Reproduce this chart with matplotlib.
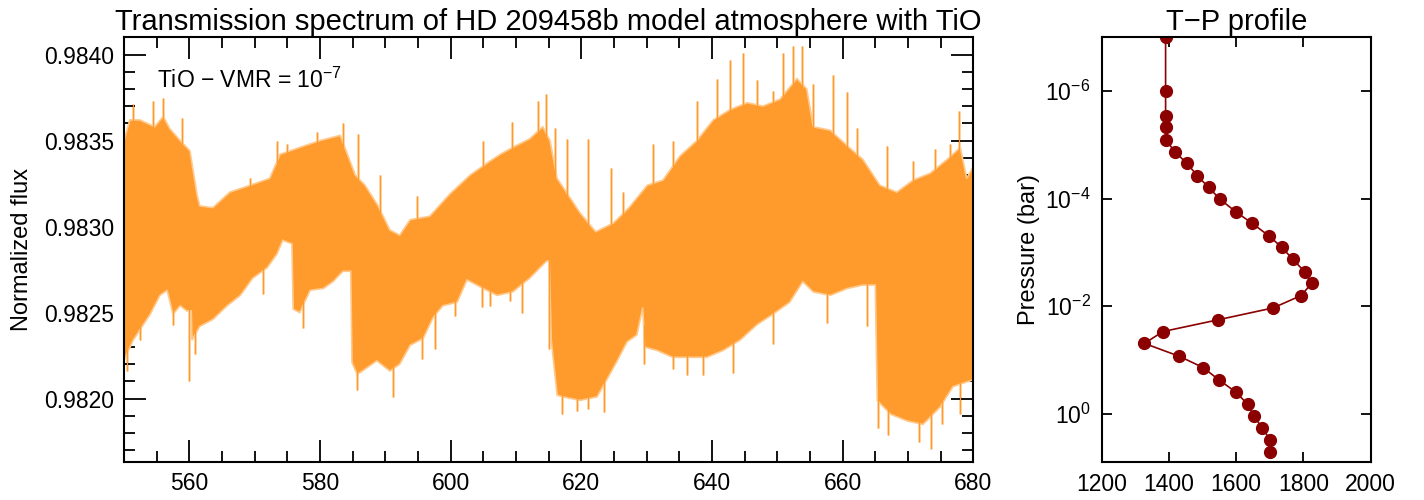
import numpy as np
import matplotlib
matplotlib.use("Agg")
import matplotlib.pyplot as plt
from matplotlib.ticker import MultipleLocator, FixedLocator, NullLocator, LogFormatterSciNotation

plt.rcParams['font.family'] = ['Liberation Sans', 'DejaVu Sans']
plt.rcParams['mathtext.fontset'] = 'custom'
plt.rcParams['mathtext.rm'] = 'Liberation Sans'
plt.rcParams['mathtext.it'] = 'Liberation Sans:italic'
plt.rcParams['mathtext.bf'] = 'Liberation Sans:bold'

# ---- Spectrum envelope ----
upper_wl = [550.0, 550.9, 552.4, 554.7, 556.0, 557.0, 558.6, 560.1, 561.2, 561.6,
            563.6, 566.2, 569.3, 572.3, 573.9, 576.9, 580.0, 583.1, 583.8, 585.4,
            586.9, 588.9, 590.7, 592.2, 593.8, 596.8, 599.9, 603.0, 606.0, 607.6,
            609.5, 612.1, 614.1, 615.2, 616.3, 619.8, 622.2, 624.9, 627.3, 630.1,
            632.5, 635.1, 637.7, 640.2, 642.8, 645.4, 647.8, 650.4, 653.0, 654.5,
            655.5, 658.1, 660.7, 663.1, 665.7, 668.3, 670.8, 673.4, 676.0, 678.0,
            679.0, 680.0]
upper_flux = [0.98350, 0.98362, 0.98362, 0.98358, 0.98364, 0.98357, 0.98350, 0.98344, 0.98318, 0.98312,
              0.98311, 0.98320, 0.98324, 0.98328, 0.98342, 0.98346, 0.98350, 0.98353, 0.98346, 0.98330,
              0.98324, 0.98312, 0.98298, 0.98295, 0.98304, 0.98306, 0.98319, 0.98330, 0.98338, 0.98342,
              0.98346, 0.98351, 0.98358, 0.98350, 0.98328, 0.98308, 0.98297, 0.98302, 0.98311, 0.98324,
              0.98327, 0.98341, 0.98350, 0.98362, 0.98368, 0.98372, 0.98370, 0.98374, 0.98386, 0.98380,
              0.98358, 0.98356, 0.98347, 0.98339, 0.98324, 0.98320, 0.98327, 0.98331, 0.98339, 0.98346,
              0.98328, 0.98335]

lower_wl = [550.0, 551.4, 554.0, 555.5, 556.6, 557.5, 558.6, 559.6, 560.3, 560.4,
            561.6, 563.6, 565.8, 567.8, 569.7, 571.9, 573.4, 574.3, 575.7, 575.9,
            576.9, 578.5, 580.5, 582.0, 583.5, 584.7, 584.9, 585.7, 587.2, 588.7,
            590.7, 592.2, 593.8, 595.8, 597.3, 598.8, 601.0, 602.5, 605.0, 607.1,
            609.5, 612.1, 614.7, 615.1, 615.4, 616.3, 617.2, 619.8, 622.4, 623.9,
            625.5, 627.0, 628.5, 629.4, 629.7, 631.6, 634.0, 636.6, 639.2, 641.7,
            644.3, 646.9, 649.3, 651.9, 653.9, 655.5, 658.1, 660.7, 663.1, 665.0,
            665.3, 667.3, 669.9, 672.3, 674.9, 676.9, 680.0]
lower_flux = [0.98222, 0.98234, 0.98249, 0.98260, 0.98263, 0.98249, 0.98254, 0.98251, 0.98251, 0.98234,
              0.98242, 0.98246, 0.98254, 0.98260, 0.98270, 0.98276, 0.98284, 0.98292, 0.98290, 0.98252,
              0.98250, 0.98263, 0.98264, 0.98268, 0.98274, 0.98274, 0.98221, 0.98214, 0.98218, 0.98222,
              0.98216, 0.98220, 0.98231, 0.98235, 0.98247, 0.98254, 0.98256, 0.98269, 0.98264, 0.98260,
              0.98262, 0.98270, 0.98280, 0.98280, 0.98234, 0.98202, 0.98201, 0.98199, 0.98201, 0.98211,
              0.98222, 0.98233, 0.98237, 0.98253, 0.98230, 0.98228, 0.98224, 0.98224, 0.98224, 0.98228,
              0.98234, 0.98243, 0.98249, 0.98256, 0.98268, 0.98262, 0.98260, 0.98264, 0.98266, 0.98266,
              0.98199, 0.98191, 0.98187, 0.98185, 0.98195, 0.98207, 0.98211]

# individual spikes (wavelength nm, flux)
spike_up_wl = [551.4, 554.4, 556.0, 558.9, 569.3, 573.4, 575.0, 579.5, 583.5, 585.8,
               589.2, 594.8, 605.0, 609.4, 613.4, 614.6, 616.0, 617.8, 621.0, 624.5,
               626.4, 631.0, 634.0, 637.7, 640.8, 642.8, 644.8, 646.9, 649.3, 650.9,
               652.4, 653.8, 655.5, 658.5, 660.7, 662.2, 666.8, 670.8, 674.1, 676.4,
               677.8]
spike_up_flux = [0.98371, 0.98373, 0.98375, 0.98363, 0.98328, 0.98350, 0.98348, 0.98355, 0.98360, 0.98354,
                 0.98330, 0.98318, 0.98350, 0.98361, 0.98373, 0.98377, 0.98357, 0.98351, 0.98351, 0.98334,
                 0.98320, 0.98348, 0.98350, 0.98373, 0.98386, 0.98397, 0.98401, 0.98385, 0.98379, 0.98401,
                 0.98405, 0.98405, 0.98383, 0.98388, 0.98378, 0.98357, 0.98347, 0.98338, 0.98345, 0.98348,
                 0.98367]
spike_dn_wl = [550.5, 552.4, 557.5, 559.9, 560.9, 571.3, 577.4, 585.7, 589.2, 591.2,
               595.6, 597.6, 600.7, 604.8, 606.0, 609.1, 610.9, 615.1, 617.0, 619.3,
               621.0, 623.5, 629.6, 634.0, 636.2, 638.6, 643.2, 649.3, 657.6, 663.7,
               665.4, 666.9, 671.7, 673.5, 675.2, 678.0]
spike_dn_flux = [0.98216, 0.98234, 0.98243, 0.98210, 0.98226, 0.98261, 0.98241, 0.98205, 0.98228, 0.98201,
                 0.98223, 0.98229, 0.98248, 0.98253, 0.98254, 0.98257, 0.98250, 0.98229, 0.98191, 0.98193,
                 0.98194, 0.98192, 0.98220, 0.98217, 0.98214, 0.98214, 0.98215, 0.98232, 0.98244, 0.98242,
                 0.98183, 0.98179, 0.98175, 0.98171, 0.98185, 0.98191]

# ---- T-P profile ----
temperature = [1390, 1390, 1390, 1390, 1390, 1418, 1453, 1484, 1518, 1552, 1598, 1648, 1697, 1735,
               1769, 1804, 1825, 1793, 1710, 1547, 1382, 1327, 1431, 1502, 1549, 1598, 1634,
               1653, 1677, 1701, 1701]
log_pressure = [-7.0, -6.0, -5.54, -5.33, -5.10, -4.87, -4.66, -4.43, -4.21, -3.99, -3.76, -3.54, -3.31, -3.10,
                -2.87, -2.64, -2.43, -2.20, -1.97, -1.75, -1.53, -1.31, -1.07, -0.86, -0.63, -0.41, -0.18,
                0.04, 0.26, 0.48, 0.70]

orange = '#FF9A2C'
light_orange = '#FFC98C'
darkred = '#8B0000'

fig = plt.figure(figsize=(14.24, 5.0), dpi=100)
ax1 = fig.add_axes([124/1424, 1-462.3/500, (973.3-124)/1424, (462.3-37.3)/500])
ax2 = fig.add_axes([1101.7/1424, 1-462.3/500, (1370.7-1101.7)/1424, (462.3-37.3)/500])

poly_x = np.concatenate([upper_wl, lower_wl[::-1]])
poly_y = np.concatenate([upper_flux, lower_flux[::-1]])
ax1.fill(poly_x, poly_y, color=orange, lw=1.2, ec=light_orange, zorder=2)

up_base = np.interp(spike_up_wl, upper_wl, upper_flux) - 0.00005
dn_top = np.interp(spike_dn_wl, lower_wl, lower_flux) + 0.00005
ax1.vlines(spike_up_wl, up_base, spike_up_flux, color=light_orange, lw=1.8, zorder=1)
ax1.vlines(spike_up_wl, up_base, spike_up_flux, color=orange, lw=0.8, zorder=3)
ax1.vlines(spike_dn_wl, spike_dn_flux, dn_top, color=light_orange, lw=1.8, zorder=1)
ax1.vlines(spike_dn_wl, spike_dn_flux, dn_top, color=orange, lw=0.8, zorder=3)

ax1.set_xlim(550, 680)
ax1.set_ylim(0.98163, 0.98410)
ax1.xaxis.set_major_locator(MultipleLocator(20))
ax1.xaxis.set_minor_locator(MultipleLocator(5))
ax1.yaxis.set_major_locator(MultipleLocator(0.0005))
ax1.yaxis.set_minor_locator(MultipleLocator(0.0001))
ax1.yaxis.set_major_formatter(matplotlib.ticker.FormatStrFormatter('%.4f'))
ax1.tick_params(which='both', direction='in', top=True, right=True, labelsize=16.5, width=1.3)
ax1.tick_params(which='major', length=16, pad=7)
ax1.tick_params(which='minor', length=8)
ax1.set_ylabel('Normalized flux', fontsize=17, labelpad=8)
ax1.set_title('Transmission spectrum of HD 209458b model atmosphere with TiO', fontsize=21, pad=5)
ax1.text(0.039, 0.881, 'TiO \u2212 VMR = 10$^{-7}$', transform=ax1.transAxes, fontsize=16.5, va='baseline')

pressure = [10**v for v in log_pressure]
ax2.plot(temperature, pressure, '-o', color=darkred, lw=1.2, ms=8.5)
ax2.set_yscale('log')
ax2.set_xlim(1200, 2000)
ax2.set_ylim(10**0.9, 1e-7)
ax2.xaxis.set_major_locator(FixedLocator([1200, 1400, 1600, 1800, 2000]))
ax2.xaxis.set_minor_locator(NullLocator())
ax2.yaxis.set_major_locator(FixedLocator([1e-6, 1e-4, 1e-2, 1e0]))
ax2.yaxis.set_minor_locator(NullLocator())
ax2.yaxis.set_major_formatter(LogFormatterSciNotation())
ax2.tick_params(which='both', direction='in', top=True, right=True, labelsize=16.5, width=1.3, length=7, pad=8)
ax2.set_ylabel('Pressure (bar)', fontsize=17, labelpad=4)
ax2.set_title('T\u2212P profile', fontsize=21, pad=5)

for ax in (ax1, ax2):
    for s in ax.spines.values():
        s.set_linewidth(1.5)

fig.savefig('out.png', dpi=100)
